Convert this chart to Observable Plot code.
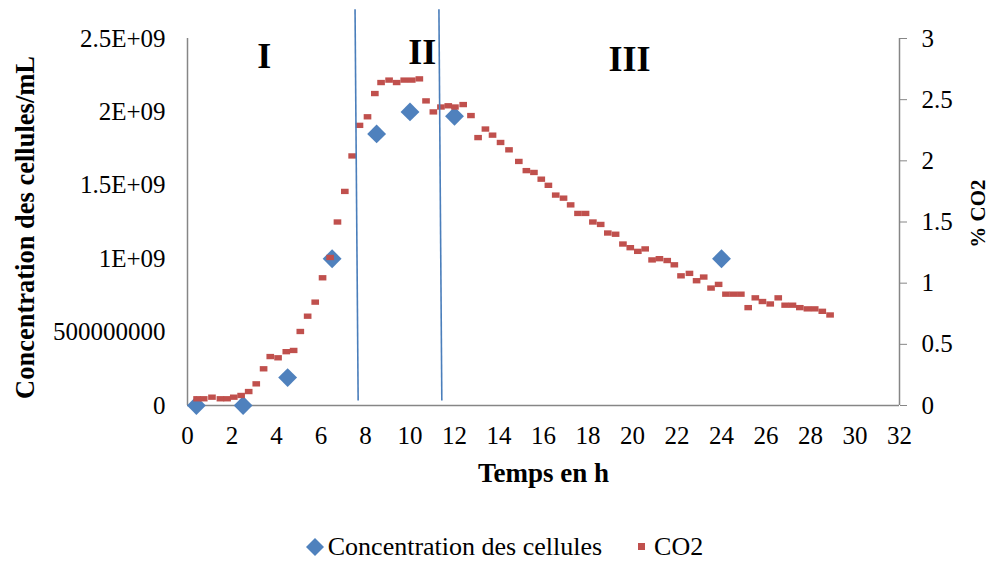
<!DOCTYPE html>
<html><head><meta charset="utf-8">
<script src="https://cdn.jsdelivr.net/npm/d3@7"></script>
<script src="https://cdn.jsdelivr.net/npm/@observablehq/plot@0.6"></script>
<style>
body{margin:0;background:#fff;font-family:"Liberation Serif","Times New Roman",serif;}
#legend{display:flex;justify-content:center;align-items:center;gap:36px;font-size:26px;height:42px;padding-left:17px;margin-top:6px;}
.item{display:flex;align-items:center;gap:3px;}
</style></head><body><div id="chart"></div><div id="legend"></div>
<script>
// ---- data ----
const cellTime  = [0.4, 2.5, 4.5, 6.5, 8.5, 10, 12, 24];
const cellConc  = [0, 0, 1.9e8, 1.0e9, 1.85e9, 2.0e9, 1.97e9, 1.0e9];

const co2Time = [0.43,0.73,1.10,1.48,1.78,2.08,2.41,2.75,3.09,3.42,3.72,4.07,4.44,4.77,5.07,5.40,5.74,6.07,6.41,6.74,
  7.07,7.40,7.73,8.09,8.42,8.70,9.06,9.40,9.74,10.08,10.42,10.72,11.05,11.39,11.72,12.02,12.39,12.74,13.06,13.39,
  13.71,14.07,14.45,14.89,15.23,15.57,15.90,16.22,16.55,16.90,17.22,17.55,17.89,18.22,18.57,18.89,19.24,19.57,19.90,20.24,
  20.57,20.88,21.21,21.56,21.88,22.18,22.56,22.88,23.20,23.53,23.87,24.20,24.53,24.87,25.20,25.52,25.84,26.19,26.55,26.86,
  27.19,27.52,27.86,28.19,28.53,28.88];
const co2Pct = [0.055,0.055,0.068,0.055,0.055,0.068,0.082,0.114,0.177,0.30,0.40,0.39,0.44,0.45,0.605,0.73,0.845,1.044,1.21,1.50,
  1.75,2.04,2.29,2.36,2.55,2.64,2.66,2.64,2.66,2.66,2.67,2.49,2.40,2.44,2.45,2.44,2.46,2.37,2.19,2.26,
  2.21,2.15,2.09,1.995,1.92,1.905,1.85,1.80,1.72,1.695,1.64,1.57,1.57,1.50,1.48,1.41,1.40,1.32,1.29,1.26,
  1.28,1.19,1.20,1.185,1.15,1.06,1.08,1.02,1.05,0.96,0.99,0.91,0.91,0.91,0.80,0.88,0.85,0.83,0.88,0.82,
  0.82,0.80,0.79,0.79,0.77,0.74];

const xTicks = [0,2,4,6,8,10,12,14,16,18,20,22,24,26,28,30,32];
const yTicks = [0, 5e8, 1e9, 1.5e9, 2e9, 2.5e9];
const yTickLabels = ["0","500000000","1E+09","1.5E+09","2E+09","2.5E+09"];
const co2Ticks = [0, 0.5, 1, 1.5, 2, 2.5, 3];
const co2TickLabels = ["0","0.5","1","1.5","2","2.5","3"];

const phaseLabels = ["I", "II", "III"];
const phaseX = [3.45, 10.55, 19.87];
const phaseY = [2.377e9, 2.405e9, 2.357e9];

const sepX1 = [7.53, 11.30];
const sepX2 = [7.67, 11.43];
const sepTop = 2.70e9;
const sepBottom = 0.034e9;

// ---- build ----
const k = 2.5e9 / 3; // CO2 % -> cell axis units
const cells = cellTime.map((t, i) => ({t, v: cellConc[i]}));
const co2 = co2Time.map((t, i) => ({t, v: co2Pct[i] * k}));
const phases = phaseLabels.map((l, i) => ({l, x: phaseX[i], y: phaseY[i]}));
const seps = sepX1.map((x, i) => ({x1: x, x2: sepX2[i], y1: sepTop, y2: sepBottom}));

const rectSym = {draw(ctx, size) { const s = Math.sqrt(size); ctx.rect(-s*0.6, -s*0.42, s*1.2, s*0.84); }};
const gray = "#868686";

const chart = Plot.plot({
  width: 991, height: 520,
  marginLeft: 187, marginRight: 92, marginTop: 38, marginBottom: 115,
  style: {fontFamily: "Liberation Serif, Times New Roman, serif", fontSize: "25px", background: "white", overflow: "visible", color: "black"},
  x: {domain: [0, 32]},
  y: {domain: [0, 2.5e9]},
  marks: [
    Plot.axisX({ticks: xTicks, tickSize: 0, tickPadding: 21, label: null, fontSize: 25, tickFormat: d => String(d)}),
    Plot.axisY({ticks: yTicks, tickSize: 0, tickPadding: 22, label: null, fontSize: 25, tickFormat: d => yTickLabels[yTicks.indexOf(d)]}),
    Plot.axisY(co2Ticks.map(v => v * k), {anchor: "right", tickSize: 7, tickPadding: 15, label: null, stroke: gray, fontSize: 25,
      tickFormat: d => co2TickLabels[Math.round(d / k * 2)]}),
    Plot.ruleX([0, 32], {stroke: gray, strokeWidth: 1.5}),
    Plot.ruleY([0], {stroke: gray, strokeWidth: 1.5}),
    Plot.dot(cells, {x: "t", y: "v", symbol: "diamond2", r: 8.5, fill: "#4f81bd", stroke: "none"}),
    Plot.dot(co2, {x: "t", y: "v", symbol: rectSym, r: 3.6, fill: "#c0504d", stroke: "none"}),
    Plot.link(seps, {x1: "x1", y1: "y1", x2: "x2", y2: "y2", stroke: "#4a7ebb", strokeWidth: 1.6}),
    Plot.text(phases, {x: "x", y: "y", text: "l", fontSize: 36, fontWeight: "bold", fill: "black"}),
    Plot.text(["Concentration des cellules/mL"], {frameAnchor: "left", textAnchor: "middle", dx: -162, dy: 5.5, rotate: -90, fontWeight: "bold", fontSize: 26.5, fill: "black"}),
    Plot.text(["% CO2"], {frameAnchor: "right", textAnchor: "middle", dx: 79, dy: -8.5, rotate: -90, fontWeight: "bold", fontSize: 21, fill: "black"}),
    Plot.text(["Temps en h"], {frameAnchor: "bottom", dy: 76, fontWeight: "bold", fontSize: 27, fill: "black"})
  ]
});
document.getElementById("chart").append(chart);

const legend = document.getElementById("legend");
legend.innerHTML =
  `<div class="item"><svg width="20" height="20"><path d="M10 1 L19 10 L10 19 L1 10 Z" fill="#4f81bd"/></svg><span>Concentration des cellules</span></div>` +
  `<div class="item" style="gap:8px"><svg width="8" height="8"><rect x="0" y="0" width="7" height="7" fill="#c0504d"/></svg><span>CO2</span></div>`;
</script></body></html>
